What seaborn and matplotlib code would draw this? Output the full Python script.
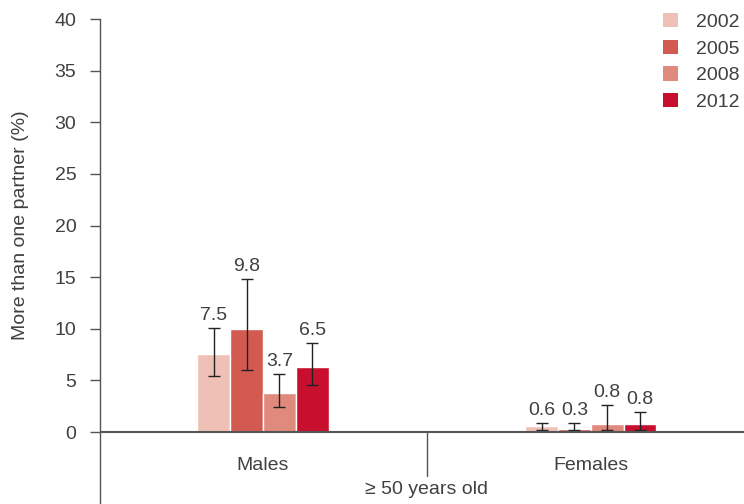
import numpy as np
import pandas as pd
import seaborn as sns
import matplotlib.pyplot as plt
from matplotlib.patches import Patch

# Data
groups = ['Males', 'Females']
years = ['2002', '2005', '2008', '2012']
heights = {'2002': [7.6, 0.6],
           '2005': [10.0, 0.3],
           '2008': [3.8, 0.8],
           '2012': [6.3, 0.8]}
labels = {'2002': ['7.5', '0.6'],
          '2005': ['9.8', '0.3'],
          '2008': ['3.7', '0.8'],
          '2012': ['6.5', '0.8']}
err_low = {'2002': [5.4, 0.2],
           '2005': [6.0, 0.2],
           '2008': [2.4, 0.2],
           '2012': [4.6, 0.2]}
err_high = {'2002': [10.1, 0.85],
            '2005': [14.8, 0.85],
            '2008': [5.6, 2.6],
            '2012': [8.6, 1.9]}
colors = ['#EFC1B6', '#D35A50', '#E08A7D', '#C8102E']
ylabel = 'More than one partner (%)'
group_title = '\u2265 50 years old'

rows = []
for y in years:
    for i, g in enumerate(groups):
        rows.append({'group': g, 'year': y, 'value': heights[y][i]})
df = pd.DataFrame(rows)

# Figure
sns.set_style('white')
plt.rcParams['font.family'] = ['Liberation Sans', 'DejaVu Sans']
txt = '#404040'
fs = 14
fig = plt.figure(figsize=(7.44, 5.04), dpi=100)
ax = fig.add_axes([100 / 744, 0, 644 / 744, 1 - 19 / 504])

sns.barplot(data=df, x='group', y='value', hue='year', order=groups, hue_order=years,
            palette=colors, width=0.4, errorbar=None, edgecolor='white', linewidth=1,
            saturation=1, legend=False, ax=ax)

# Error bars and value labels
for cont, y in zip(ax.containers, years):
    for i, bar in enumerate(cont):
        xc = bar.get_x() + bar.get_width() / 2
        h = heights[y][i]
        ax.errorbar(xc, h, yerr=[[h - err_low[y][i]], [err_high[y][i] - h]],
                    fmt='none', ecolor='#222222', elinewidth=1, capsize=4.5, capthick=1)
        ax.annotate(labels[y][i], (xc, err_high[y][i]), xytext=(0, 3),
                    textcoords='offset points', ha='center', va='bottom',
                    fontsize=fs, color=txt)

ax.set_xlim(-0.497, 1.467)
ax.set_ylim(-6.97, 40)
ax.set_yticks(np.arange(0, 41, 5))
ax.set_xticks([])
ax.set_xlabel('')
ax.set_ylabel(ylabel, fontsize=fs, color=txt)
ax.yaxis.set_label_coords(-0.11, 0.575)
ax.tick_params(axis='y', left=True, length=7, width=1, color='#555555',
               labelsize=fs, labelcolor=txt, pad=10)
for s in ['top', 'right', 'bottom']:
    ax.spines[s].set_visible(False)
ax.spines['left'].set_color('#555555')
ax.spines['left'].set_linewidth(1)

ax.axhline(0, color='#555555', linewidth=1.5, zorder=5)
ax.plot([0.5, 0.5], [0, -4.26], color='#555555', linewidth=1)

for i, g in enumerate(groups):
    ax.text(i, -3.2, g, ha='center', va='center', fontsize=fs, color=txt)
ax.text(0.5, -5.55, group_title, ha='center', va='center', fontsize=fs, color=txt)

# Legend
handles = [Patch(facecolor=c, edgecolor='none', label=y) for c, y in zip(colors, years)]
leg = fig.legend(handles=handles, loc='upper left', bbox_to_anchor=(663 / 744, 1 - 13 / 504),
                 frameon=False, fontsize=fs, handlelength=0.75, handleheight=0.75,
                 handletextpad=0.95, labelspacing=0.45, borderaxespad=0, borderpad=0)
for t in leg.get_texts():
    t.set_color(txt)

fig.savefig('out.png', dpi=100)
